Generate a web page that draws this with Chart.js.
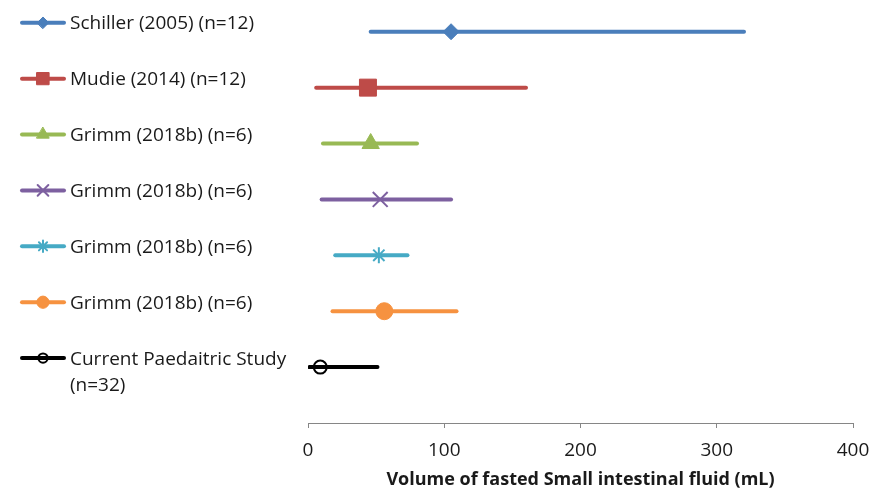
<!DOCTYPE html>
<html>
<head>
<meta charset="utf-8">
<script src="https://cdn.jsdelivr.net/npm/chart.js@4.4.0/dist/chart.umd.min.js"></script>
<style>
    html, body { margin: 0; padding: 0; background: #fff; }
    #wrap { width: 876px; height: 492px; position: relative; }
</style>
</head>
<body>
<div id="wrap"><canvas id="volumeChart"></canvas></div>
<script>
// study labels (last one wraps onto two lines)
const studyLabels = [
    ['Schiller (2005) (n=12)'],
    ['Mudie (2014) (n=12)'],
    ['Grimm (2018b) (n=6)'],
    ['Grimm (2018b) (n=6)'],
    ['Grimm (2018b) (n=6)'],
    ['Grimm (2018b) (n=6)'],
    ['Current Paedaitric Study', '(n=32)']
];
const lowValues = [46, 6, 11, 10, 20, 18, 1];
const meanValues = [105, 44, 46, 53, 52, 56, 9];
const highValues = [320, 160, 80, 105, 73, 109, 51];
const xTicks = [0, 100, 200, 300, 400];
const axisTitle = 'Volume of fasted Small intestinal fluid (mL)';

const lineColors = ['#4A7EBB', '#BE4B48', '#98B954', '#7D60A0', '#46AAC5', '#F69240', '#000000'];
const markerStyles = ['rectRot', 'rect', 'triangle', 'crossRot', 'star', 'circle', 'circle'];
const markerSizes = [8, 12, 10, 10.5, 8, 8.5, 6.5];

const FONT = '"Open Sans", sans-serif';

const datasets = studyLabels.map((label, i) => {
    const open = i === studyLabels.length - 1;
    const lineLike = markerStyles[i] === 'crossRot' || markerStyles[i] === 'star';
    return {
        label: label.join(' '),
        data: [
            { x: lowValues[i], y: i },
            { x: meanValues[i], y: i },
            { x: highValues[i], y: i }
        ],
        borderColor: lineColors[i],
        borderWidth: 4,
        borderCapStyle: 'round',
        pointStyle: markerStyles[i],
        pointRadius: [0, markerSizes[i], 0],
        pointHoverRadius: [0, markerSizes[i], 0],
        pointBackgroundColor: open ? 'rgba(0,0,0,0)' : lineColors[i],
        pointBorderColor: lineColors[i],
        pointBorderWidth: (open || lineLike) ? 2 : 1,
        fill: false
    };
});

// draws the legend on the left, one entry per row
const sideLegend = {
    id: 'sideLegend',
    afterDraw(chart) {
        const ctx = chart.ctx;
        const yScale = chart.scales.y;
        ctx.save();
        chart.data.datasets.forEach((ds, i) => {
            const y = yScale.getPixelForValue(i) - 9;
            ctx.strokeStyle = ds.borderColor;
            ctx.lineWidth = 4;
            ctx.lineCap = 'round';
            ctx.beginPath();
            ctx.moveTo(22, y);
            ctx.lineTo(64, y);
            ctx.stroke();

            ctx.fillStyle = ds.pointBackgroundColor;
            ctx.strokeStyle = ds.pointBorderColor;
            ctx.lineWidth = ds.pointBorderWidth;
            Chart.helpers.drawPoint(ctx, {
                pointStyle: ds.pointStyle,
                radius: markerSizes[i] * 0.72,
                rotation: 0,
                borderWidth: ds.pointBorderWidth
            }, 43, y);

            ctx.fillStyle = '#1a1a1a';
            ctx.font = '19px ' + FONT;
            ctx.textBaseline = 'middle';
            ctx.textAlign = 'left';
            studyLabels[i].forEach((line, k) => {
                ctx.fillText(line, 70, y + 1 + k * 26);
            });
        });
        ctx.restore();
    }
};

new Chart(document.getElementById('volumeChart'), {
    type: 'line',
    data: { datasets: datasets },
    options: {
        responsive: true,
        maintainAspectRatio: false,
        animation: false,
        layout: { padding: { left: 308, right: 23, top: 1, bottom: 0 } },
        plugins: {
            legend: { display: false },
            tooltip: { enabled: false }
        },
        scales: {
            x: {
                type: 'linear',
                min: 0,
                max: 400,
                afterBuildTicks: scale => {
                    scale.ticks = xTicks.map(v => ({ value: v }));
                },
                afterFit: scale => {
                    scale.height = 69;
                    scale.paddingRight = 0;
                },
                grid: {
                    drawOnChartArea: false,
                    tickLength: 5,
                    color: '#868686'
                },
                border: { color: '#868686', width: 1 },
                ticks: {
                    color: '#1a1a1a',
                    padding: 11,
                    font: { family: FONT, size: 19 }
                },
                title: {
                    display: true,
                    text: axisTitle,
                    color: '#1a1a1a',
                    padding: { top: 0, bottom: 1 },
                    font: { family: FONT, size: 18, weight: 'bold' }
                }
            },
            y: {
                type: 'linear',
                display: false,
                reverse: true,
                min: -0.55,
                max: 7
            }
        }
    },
    plugins: [sideLegend]
});
</script>
</body>
</html>
